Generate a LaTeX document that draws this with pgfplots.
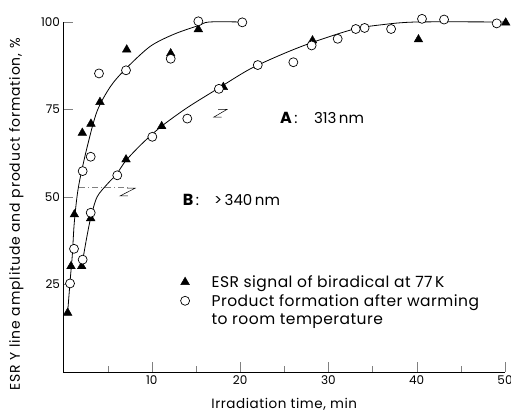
\documentclass[border=0pt]{standalone}
\usepackage{pgfplots}
\pgfplotsset{compat=1.18}
\usepackage{fontspec}
\setmainfont{Poppins}
\begin{document}
\begin{tikzpicture}
\begin{axis}[
  at={(0,0)}, anchor=south west,
  scale only axis, width=441.5pt, height=350pt,
  xmin=0, xmax=50, ymin=0, ymax=100,
  clip=false,
  axis lines*=left,
  tick align=inside,
  xtick={10,20,30,40,50}, minor xtick={5,15,25,35,45},
  ytick={25,50,75,100},
  major tick length=10pt, minor tick length=6pt,
  /pgf/number format/assume math mode=true,
  ticklabel style={font=\fontsize{12}{14}\selectfont},
  xlabel={Irradiation time, min},
  ylabel={ESR Y line amplitude and product formation, \%},
  xlabel style={at={(axis description cs:0.5,-0.093)}, anchor=center,
    font=\fontsize{13.5}{15}\selectfont\addfontfeatures{LetterSpace=4}},
  ylabel style={at={(axis description cs:-0.107,0.45)}, anchor=center,
    font=\fontsize{14}{16}\selectfont\addfontfeatures{LetterSpace=6}},
  legend cell align=left,
  legend style={draw=none, fill=none, at={(axis cs:12.9,28.8)}, anchor=north west,
    font=\fontsize{15.5}{18}\selectfont\addfontfeatures{LetterSpace=3}, row sep=1pt,
    /tikz/every odd column/.append style={column sep=20pt}},
]
% curve A (313 nm)
\addplot[black, thick, smooth, tension=0.5, forget plot] coordinates {
(0.47,17) (0.75,26) (1.0,33.5) (1.2,42) (1.5,49.5) (1.85,55) (2.7,64.5) (3.8,74.5)
(5.3,81.5) (7,86.5) (9.8,93) (12.5,96.5) (15.3,99) (16.5,100) (20.25,100)};
% curve B (>340 nm)
\addplot[black, thick, smooth, tension=0.5, forget plot] coordinates {
(2.06,30.2) (2.6,38) (3.08,44) (3.8,50) (5,53.8) (6,56.5) (7.1,60.5) (9,65.5)
(11.1,70.2) (14,75.5) (17.5,81) (21,86.4) (24.5,90.5) (28,94) (32.8,97.9) (36,99.2)
(40,100) (50,100)};
% A triangles
\addplot[only marks, mark=triangle*, mark size=5pt, black] coordinates {
(0.47,16.9) (0.85,30.2) (1.23,45) (2.13,68.3) (3.11,70.9) (4.13,77.1) (7.16,92.1)
(12.14,91) (15.27,97.9)};
\addlegendentry{ESR signal of biradical at 77\,K}
% A circles
\addplot[only marks, mark=*, mark size=4.5pt, black, mark options={fill=white, line width=0.7pt}] coordinates {
(0.74,25.3) (1.19,35.2) (2.17,57.4) (3.08,61.5) (4.02,85.3) (7.08,86.2) (12.14,89.5)
(15.27,100.2) (20.25,99.9)};
\addlegendentry{\begin{tabular}[t]{@{}l@{}}Product formation after warming\\to room temperature\end{tabular}}
% B triangles
\addplot[only marks, mark=triangle*, mark size=5pt, black, forget plot] coordinates {
(2.06,30.2) (3.08,43.9) (7.08,60.7) (11.12,70.2) (18.1,81.4) (28.2,94.7) (40.2,95)
(50.08,99.8)};
% B circles
\addplot[only marks, mark=*, mark size=4.5pt, black, mark options={fill=white, line width=0.7pt}, forget plot] coordinates {
(2.17,32.1) (3.08,45.5) (6.09,56.2) (10.06,67.2) (14.02,72.4) (17.6,80.9) (22.0,87.7)
(26.03,88.5) (28.1,93.3) (31.05,95.2) (33.1,98) (34.1,98.3) (37.1,98) (40.6,100.9)
(43.1,100.7) (49.06,99.6)};
% annotations
\node[anchor=west, inner xsep=0pt, font=\fontsize{15}{17}\selectfont] at (axis cs:24.5,72.7) {{\fontsize{16}{17}\selectfont\textbf{A}}\,:\hspace{1.1em}313\,nm};
\node[anchor=west, inner xsep=0pt, font=\fontsize{15}{17}\selectfont] at (axis cs:13.5,49.3) {{\fontsize{16}{17}\selectfont\textbf{B}}\,:\hspace{1em}>\,340\,nm};
\draw[black, line width=0.5pt] (axis cs:17.5,75.0) -- (axis cs:18.5,75.0) -- (axis cs:17.0,72.8) -- (axis cs:17.9,72.8);
\draw[black, line width=0.5pt] (axis cs:7.2,52.5) -- (axis cs:8.1,52.5) -- (axis cs:6.4,50.3) -- (axis cs:7.3,50.3);
\draw[gray, line width=0.4pt, dash pattern=on 6pt off 3pt on 1pt off 3pt] (axis cs:1.8,52.8) -- (axis cs:7.6,52.8);
\end{axis}
\pgfresetboundingbox
\path (-63.5pt,-40pt) rectangle (447.5pt,372pt);
\end{tikzpicture}
\end{document}
